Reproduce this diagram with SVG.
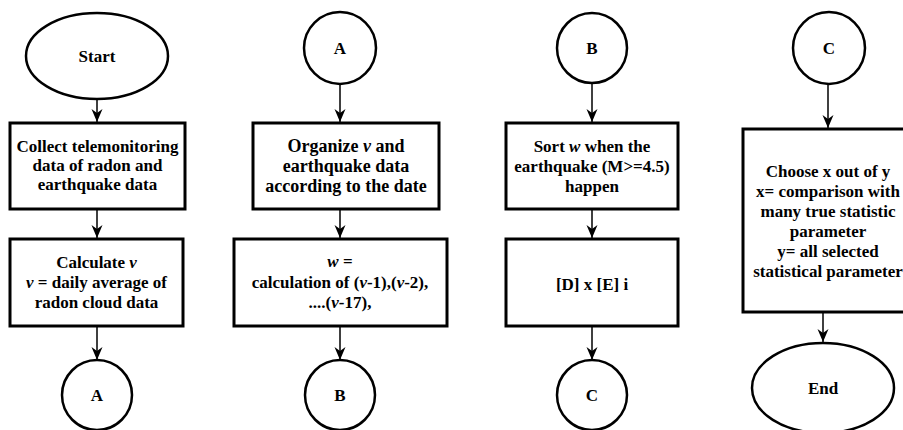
<svg xmlns="http://www.w3.org/2000/svg" width="903" height="430" viewBox="0 0 903 430">
<style>
.box{fill:#fff;stroke:#000;stroke-width:3}
.term{fill:#fff;stroke:#000;stroke-width:2.5}
.conn{stroke:#000;stroke-width:1.5;fill:none}
text{font-family:"Liberation Serif","Times New Roman",serif;font-weight:bold;font-size:17px;text-anchor:middle;fill:#000}
.i{font-style:italic}
.big{font-size:18px}
</style>
<defs>
<marker id="arr" markerUnits="userSpaceOnUse" markerWidth="14" markerHeight="12" refX="13" refY="6" orient="auto" viewBox="0 0 14 12" overflow="visible">
<path d="M0,0.5 L13,6 L0,11.5 L4,6 Z" fill="#000" stroke="none"/>
</marker>
</defs>
<g id="connectors">
<path class="conn" d="M97,99 V122" marker-end="url(#arr)"/>
<path class="conn" d="M97,209 V238" marker-end="url(#arr)"/>
<path class="conn" d="M97,326 V360" marker-end="url(#arr)"/>
<path class="conn" d="M340,84 V122" marker-end="url(#arr)"/>
<path class="conn" d="M340,209 V238" marker-end="url(#arr)"/>
<path class="conn" d="M340,326 V360" marker-end="url(#arr)"/>
<path class="conn" d="M592,83 V122" marker-end="url(#arr)"/>
<path class="conn" d="M592,209 V238" marker-end="url(#arr)"/>
<path class="conn" d="M592,326 V360" marker-end="url(#arr)"/>
<path class="conn" d="M828,84 V128" marker-end="url(#arr)"/>
<path class="conn" d="M823,312 V342" marker-end="url(#arr)"/>
</g>
<g id="start">
<ellipse class="term" cx="97" cy="56" rx="71" ry="43"/>
<text x="97" y="62">Start</text>
</g>
<g id="collect">
<rect class="box" x="10" y="123" width="175" height="86"/>
<text x="97.5" y="152">Collect telemonitoring</text>
<text x="97.5" y="171">data of radon  and</text>
<text x="97.5" y="190">earthquake data</text>
</g>
<g id="calculate">
<rect class="box" x="10" y="239" width="173" height="87"/>
<text x="96.5" y="268">Calculate <tspan class="i">v</tspan></text>
<text x="96.5" y="288"><tspan class="i">v</tspan> = daily average of</text>
<text x="96.5" y="308">radon cloud  data</text>
</g>
<g id="connA1">
<circle class="term" cx="97" cy="395" r="35"/>
<text x="97" y="401">A</text>
</g>
<g id="connA2">
<circle class="term" cx="340" cy="48" r="36"/>
<text x="340" y="54">A</text>
</g>
<g id="organize">
<rect class="box" x="253" y="123" width="186" height="86"/>
<text class="big" x="346" y="152">Organize <tspan class="i">v</tspan> and</text>
<text class="big" x="346" y="172">earthquake data</text>
<text class="big" x="346" y="192">according to the date</text>
</g>
<g id="calcw">
<rect class="box" x="234" y="239" width="213" height="87"/>
<text x="340" y="267"><tspan class="i">w</tspan> =</text>
<text x="340" y="288">calculation of (<tspan class="i">v</tspan>-1),(<tspan class="i">v</tspan>-2),</text>
<text x="340" y="308">....(<tspan class="i">v</tspan>-17),</text>
</g>
<g id="connB1">
<circle class="term" cx="340" cy="395" r="35"/>
<text x="340" y="401">B</text>
</g>
<g id="connB2">
<circle class="term" cx="592" cy="48" r="35"/>
<text x="592" y="54">B</text>
</g>
<g id="sort">
<rect class="box" x="506" y="123" width="172" height="86"/>
<text x="592" y="152">Sort <tspan class="i">w</tspan> when the</text>
<text x="592" y="172">earthquake (M&gt;=4.5)</text>
<text x="592" y="192">happen</text>
</g>
<g id="dxe">
<rect class="box" x="506" y="239" width="172" height="87"/>
<text x="592" y="290">[D] x [E] i</text>
</g>
<g id="connC1">
<circle class="term" cx="592" cy="395" r="35"/>
<text x="592" y="401">C</text>
</g>
<g id="connC2">
<circle class="term" cx="829" cy="48" r="36"/>
<text x="829" y="54">C</text>
</g>
<g id="choose">
<rect class="box" x="743" y="129" width="172" height="183"/>
<text x="828" y="177">Choose x out of y</text>
<text x="828" y="197">x= comparison with</text>
<text x="828" y="217">many true statistic</text>
<text x="828" y="237">parameter</text>
<text x="828" y="257">y= all selected</text>
<text x="828" y="277">statistical parameter</text>
</g>
<g id="end">
<ellipse class="term" cx="823" cy="388" rx="71" ry="45"/>
<text x="823" y="394">End</text>
</g>
</svg>
